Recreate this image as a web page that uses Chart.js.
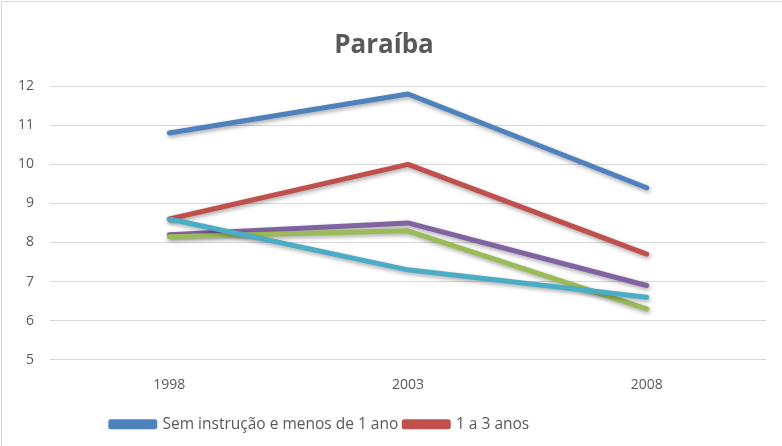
<!DOCTYPE html>
<html>
<head>
<meta charset="utf-8">
<script src="https://cdn.jsdelivr.net/npm/chart.js@4/dist/chart.umd.min.js"></script>
<style>
    html, body { margin: 0; padding: 0; background: #fff; }
    #wrap {
        position: absolute; left: 1px; top: 1px;
        width: 790px; height: 452px;
        border: 1px solid #d9d9d9;
        box-sizing: border-box;
    }
    #box { position: absolute; left: -1px; top: -1px; width: 782px; height: 446px; }
</style>
</head>
<body>
<div id="wrap"><div id="box"><canvas id="chart"></canvas></div></div>
<script>
    // data
    var years = ['1998', '2003', '2008'];
    var seriesNames = ['Sem instrução e menos de 1 ano', '1 a 3 anos', '4 a 7 anos', '8 a 10 anos', '11 anos ou mais'];
    var semInstrucao = [10.8, 11.8, 9.4];
    var umATres = [8.6, 10.0, 7.7];
    var quatroASete = [8.2, 8.5, 6.9];
    var oitoADez = [8.15, 8.3, 6.3];
    var onzeOuMais = [8.6, 7.3, 6.6];
    var colors = ['#4f81bd', '#c0504d', '#8064a2', '#9bbb59', '#4bacc6'];

    var values = [semInstrucao, umATres, quatroASete, oitoADez, onzeOuMais];
    var grey = '#595959';

    var datasets = values.map(function(v, i) {
        return {
            label: seriesNames[i],
            data: v,
            borderColor: colors[i],
            backgroundColor: colors[i],
            borderWidth: 5,
            borderCapStyle: 'round',
            borderJoinStyle: 'round',
            pointRadius: 0,
            tension: 0,
            order: values.length - i   // later series drawn on top, like Excel
        };
    });

    // soft drop shadow under the lines
    var shadowPlugin = {
        id: 'lineShadow',
        beforeDatasetsDraw: function(chart) {
            var ctx = chart.ctx;
            ctx.save();
            ctx.shadowColor = 'rgba(0,0,0,0.35)';
            ctx.shadowBlur = 4;
            ctx.shadowOffsetX = 1;
            ctx.shadowOffsetY = 2;
        },
        afterDatasetsDraw: function(chart) {
            chart.ctx.restore();
        }
    };

    // the legend row sits left of centre in the original (rest of it is cut off)
    var legendShift = {
        id: 'legendShift',
        afterLayout: function(chart) {
            chart.legend.left -= 64;
            chart.legend.right -= 64;
        }
    };

    new Chart(document.getElementById('chart'), {
        type: 'line',
        data: { labels: years, datasets: datasets },
        plugins: [shadowPlugin, legendShift],
        options: {
            responsive: true,
            maintainAspectRatio: false,
            animation: false,
            layout: { padding: { left: 1, right: 17, top: 21, bottom: 5 } },
            plugins: {
                title: {
                    display: true,
                    text: 'Paraíba',
                    color: grey,
                    font: { family: 'Open Sans', size: 26, weight: 'bold' },
                    padding: { top: 8, bottom: 25 }
                },
                legend: {
                    position: 'bottom',
                    labels: {
                        color: grey,
                        font: { family: 'Open Sans', size: 15.5 },
                        boxWidth: 44,
                        boxHeight: 5,
                        padding: 6,
                        filter: function(item) { return item.datasetIndex < 2; },
                        sort: function(a, b) { return a.datasetIndex - b.datasetIndex; }
                    }
                },
                tooltip: { enabled: false }
            },
            scales: {
                x: {
                    offset: true,
                    grid: { display: false },
                    border: { display: false },
                    ticks: { color: grey, font: { family: 'Open Sans', size: 14 }, padding: 9 },
                    afterFit: function(scale) { scale.height += 8; }
                },
                y: {
                    min: 5,
                    max: 12,
                    ticks: { stepSize: 1, color: grey, font: { family: 'Open Sans', size: 14 }, padding: 16 },
                    grid: { color: '#d9d9d9', drawTicks: false },
                    border: { display: false }
                }
            }
        }
    });
</script>
</body>
</html>
